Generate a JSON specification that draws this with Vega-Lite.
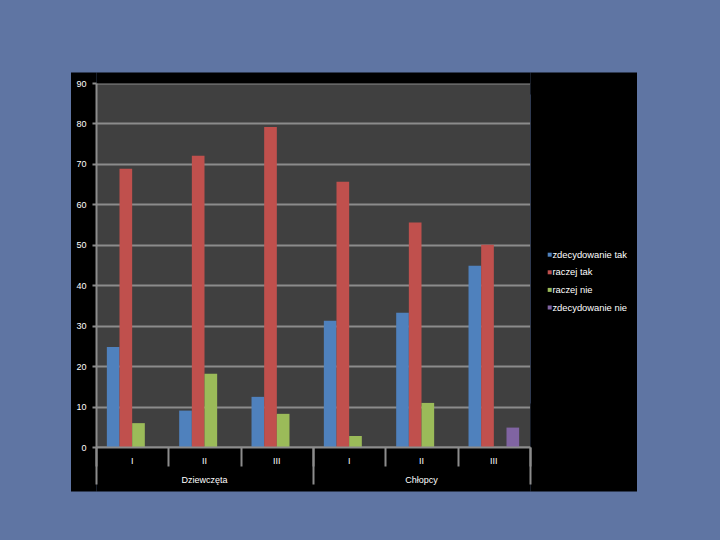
{
  "$schema": "https://vega.github.io/schema/vega-lite/v6.json",
  "width": 434,
  "height": 364,
  "autosize": {"type": "none"},
  "padding": {"left": 96, "top": 83, "right": 190, "bottom": 93},
  "background": "#5f75a3",
  "config": {
    "view": {"fill": "#404040", "stroke": null},
    "axis": {"labelFont": "Liberation Sans", "labelFontSize": 9, "labelColor": "#ffffff", "grid": false, "title": null}
  },
  "data": {
    "values": [
      {"kat": "a1", "grupa": "Dziewczęta", "klasa": "I", "seria": "zdecydowanie tak", "wartosc": 24.7},
      {"kat": "a1", "grupa": "Dziewczęta", "klasa": "I", "seria": "raczej tak", "wartosc": 68.8},
      {"kat": "a1", "grupa": "Dziewczęta", "klasa": "I", "seria": "raczej nie", "wartosc": 5.9},
      {"kat": "a2", "grupa": "Dziewczęta", "klasa": "II", "seria": "zdecydowanie tak", "wartosc": 9.0},
      {"kat": "a2", "grupa": "Dziewczęta", "klasa": "II", "seria": "raczej tak", "wartosc": 72.0},
      {"kat": "a2", "grupa": "Dziewczęta", "klasa": "II", "seria": "raczej nie", "wartosc": 18.1},
      {"kat": "a3", "grupa": "Dziewczęta", "klasa": "III", "seria": "zdecydowanie tak", "wartosc": 12.4},
      {"kat": "a3", "grupa": "Dziewczęta", "klasa": "III", "seria": "raczej tak", "wartosc": 79.1},
      {"kat": "a3", "grupa": "Dziewczęta", "klasa": "III", "seria": "raczej nie", "wartosc": 8.2},
      {"kat": "b1", "grupa": "Chłopcy", "klasa": "I", "seria": "zdecydowanie tak", "wartosc": 31.2},
      {"kat": "b1", "grupa": "Chłopcy", "klasa": "I", "seria": "raczej tak", "wartosc": 65.6},
      {"kat": "b1", "grupa": "Chłopcy", "klasa": "I", "seria": "raczej nie", "wartosc": 2.7},
      {"kat": "b2", "grupa": "Chłopcy", "klasa": "II", "seria": "zdecydowanie tak", "wartosc": 33.2},
      {"kat": "b2", "grupa": "Chłopcy", "klasa": "II", "seria": "raczej tak", "wartosc": 55.5},
      {"kat": "b2", "grupa": "Chłopcy", "klasa": "II", "seria": "raczej nie", "wartosc": 10.9},
      {"kat": "b3", "grupa": "Chłopcy", "klasa": "III", "seria": "zdecydowanie tak", "wartosc": 44.8},
      {"kat": "b3", "grupa": "Chłopcy", "klasa": "III", "seria": "raczej tak", "wartosc": 50.0},
      {"kat": "b3", "grupa": "Chłopcy", "klasa": "III", "seria": "zdecydowanie nie", "wartosc": 4.8}
    ]
  },
  "layer": [
    {
      "mark": {"type": "bar"},
      "encoding": {
        "x": {
          "field": "kat", "type": "nominal",
          "scale": {"paddingInner": 0, "paddingOuter": 0},
          "axis": {"orient": "bottom", "tickBand": "extent", "ticks": true, "tickSize": 19, "tickWidth": 2, "tickColor": "#8c8c8c", "domain": true, "domainColor": "#8c8c8c", "domainWidth": 2, "labels": false, "zindex": 1, "title": null}
        },
        "xOffset": {
          "field": "seria", "type": "nominal",
          "scale": {"domain": ["zdecydowanie tak", "raczej tak", "raczej nie", "zdecydowanie nie"], "paddingInner": 0, "paddingOuter": 0.857}
        },
        "y": {
          "field": "wartosc", "type": "quantitative", "stack": null,
          "scale": {"domain": [0, 90], "nice": false},
          "axis": {"orient": "left", "grid": true, "gridColor": "#8c8c8c", "gridWidth": 2, "values": [0, 10, 20, 30, 40, 50, 60, 70, 80, 90], "ticks": false, "labels": false, "domain": false, "zindex": 0, "title": null}
        },
        "color": {
          "field": "seria", "type": "nominal",
          "scale": {"domain": ["zdecydowanie tak", "raczej tak", "raczej nie", "zdecydowanie nie"], "range": ["#4f81bd", "#c0504d", "#9bbb59", "#8064a2"]},
          "legend": {"orient": "none", "legendX": 449, "legendY": 167, "title": null, "labelFont": "Liberation Sans", "labelFontSize": 9.4, "labelColor": "#ffffff", "symbolType": "square", "symbolSize": 16, "symbolStrokeWidth": 0, "rowPadding": 6.6, "labelOffset": -2, "padding": 0}
        }
      }
    },
    {
      "mark": {"type": "bar", "opacity": 0},
      "encoding": {
        "x": {"field": "kat", "type": "nominal",
          "axis": {"orient": "top", "offset": 5.5, "domain": true, "domainWidth": 11, "domainColor": "#000000", "domainCap": "butt", "ticks": false, "labels": false, "zindex": 0, "title": null}},
        "y": {"field": "wartosc", "type": "quantitative", "stack": null,
          "axis": {"orient": "left", "values": [0, 10, 20, 30, 40, 50, 60, 70, 80, 90], "ticks": true, "tickSize": 4, "tickWidth": 2, "tickColor": "#8c8c8c", "domain": true, "domainColor": "#8c8c8c", "domainWidth": 2, "labelPadding": 6, "labelBaseline": "middle", "zindex": 1, "title": null}}
      }
    },
    {
      "mark": {"type": "bar", "opacity": 0},
      "encoding": {
        "x": {"field": "kat", "type": "nominal",
          "axis": {"orient": "bottom", "offset": 22, "domain": true, "domainWidth": 44, "domainColor": "#000000", "domainCap": "butt", "ticks": false, "labels": false, "zindex": 0, "title": null}},
        "y": {"field": "wartosc", "type": "quantitative", "stack": null,
          "axis": {"orient": "left", "values": [0, 45, 90], "domain": false, "labels": false, "ticks": true, "tickSize": 25.5, "tickColor": "#000000", "tickCap": "butt",
            "tickWidth": {"condition": [{"test": "datum.value == 90", "value": 22}, {"test": "datum.value == 0", "value": 88}], "value": 364},
            "zindex": 0, "title": null}}
      }
    },
    {
      "mark": {"type": "bar", "opacity": 0},
      "encoding": {
        "x": {"field": "kat", "type": "nominal",
          "axis": {"orient": "bottom", "tickBand": "extent", "ticks": true, "tickSize": 37, "tickWidth": 2,
            "tickColor": {"condition": {"test": "datum.extra || datum.index === -1 || datum.value === 'a3' || datum.value === 'b3'", "value": "#8c8c8c"}, "value": "transparent"},
            "domain": false, "labels": false, "zindex": 1, "title": null}},
        "y": {"field": "wartosc", "type": "quantitative", "stack": null,
          "axis": {"orient": "right", "values": [0, 45, 90], "domain": false, "labels": false, "ticks": true, "tickSize": 106.5, "tickColor": "#000000", "tickCap": "butt",
            "tickWidth": {"condition": [{"test": "datum.value == 90", "value": 22}, {"test": "datum.value == 0", "value": 88}], "value": 364},
            "zindex": 0, "title": null}}
      }
    },
    {
      "mark": {"type": "bar", "opacity": 0},
      "encoding": {
        "x": {"field": "kat", "type": "nominal",
          "axis": {"orient": "bottom", "ticks": false, "tickSize": 0, "domain": false, "labelAngle": 0, "labelAlign": "center", "labelPadding": 13, "labelBaseline": "middle",
            "labelExpr": "(datum.value == 'a1' || datum.value == 'b1') ? 'I' : (datum.value == 'a2' || datum.value == 'b2') ? 'II' : 'III'",
            "zindex": 1, "title": null}},
        "y": {"field": "wartosc", "type": "quantitative", "stack": null, "axis": null}
      }
    },
    {
      "mark": {"type": "bar", "opacity": 0},
      "encoding": {
        "x": {"field": "kat", "type": "nominal",
          "axis": {"orient": "bottom", "values": ["a2", "b2"], "ticks": false, "tickSize": 0, "domain": false, "labelAngle": 0, "labelAlign": "center", "labelPadding": 32, "labelBaseline": "middle",
            "labelExpr": "datum.value == 'a2' ? 'Dziewczęta' : 'Chłopcy'",
            "zindex": 1, "title": null}},
        "y": {"field": "wartosc", "type": "quantitative", "stack": null, "axis": null}
      }
    }
  ],
  "resolve": {"axis": {"x": "independent", "y": "independent"}}
}
